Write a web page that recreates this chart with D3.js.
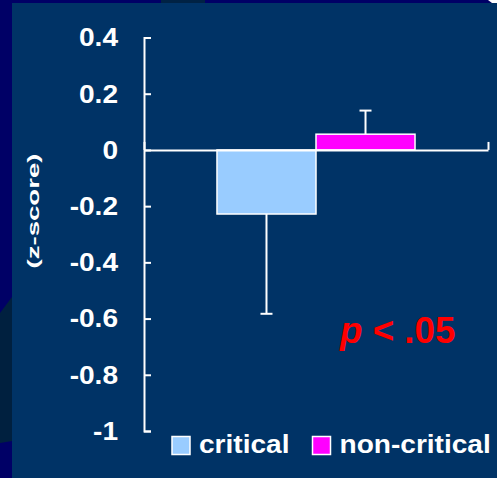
<!DOCTYPE html>
<html>
<head>
<meta charset="utf-8">
<script src="https://cdn.jsdelivr.net/npm/d3@7"></script>
<style>
  html, body { margin: 0; padding: 0; background: #000066; }
  svg { display: block; }
  text { font-family: "Liberation Sans", Arial, sans-serif; font-weight: bold; }
</style>
</head>
<body>
<svg id="chart" width="497" height="478"></svg>
<script>
// Mean z-scores by condition, with error bar extents
const categories = ["critical", "non-critical"];
const means = [-0.228, 0.056];
const errorEnds = [-0.583, 0.14];
const barColors = ["#99CCFF", "#FF00FF"];

// Y axis ticks
const tickValues = [0.4, 0.2, 0, -0.2, -0.4, -0.6, -0.8, -1];
const tickLabels = ["0.4", "0.2", "0", "-0.2", "-0.4", "-0.6", "-0.8", "-1"];

const axisTitle = "(z-score)";
const annotation = { italic: "p", rest: " < .05" };

const svg = d3.select("#chart");
const stretch = 1.08; // slightly wide lettering

// Slide backdrop
svg.append("rect").attr("x", 0).attr("y", 0).attr("width", 497).attr("height", 478).attr("fill", "#000066");
svg.append("path")
  .attr("d", "M12,297 L0,313 L0,443 L12,441 Z")
  .attr("fill", "#00203F");
svg.append("rect").attr("x", 161).attr("y", 0).attr("width", 44).attr("height", 3).attr("fill", "#002244");
svg.append("path").attr("d", "M488,0 L497,0 L497,3 L492,3 Z").attr("fill", "#ffffff");
svg.append("rect").attr("x", 12).attr("y", 3).attr("width", 485).attr("height", 475).attr("fill", "#003366");

const left = 144, right = 488;

const y = d3.scaleLinear().domain([-1, 0.4]).range([431, 37.5]);
const x = d3.scaleBand().domain(categories).range([left, right]).paddingInner(0).paddingOuter(0.737);

// Bars
svg.append("g").selectAll("rect")
  .data(categories)
  .join("rect")
  .attr("x", d => x(d))
  .attr("width", x.bandwidth())
  .attr("y", (d, i) => y(Math.max(0, means[i])))
  .attr("height", (d, i) => Math.abs(y(means[i]) - y(0)))
  .attr("fill", (d, i) => barColors[i])
  .attr("stroke", "#ffffff")
  .attr("stroke-width", 1.5);

// Error bars (one-sided, away from zero)
const capHalf = 6;
const eb = svg.append("g").attr("stroke", "#ffffff").attr("stroke-width", 2);
categories.forEach((c, i) => {
  const cx = x(c) + x.bandwidth() / 2;
  eb.append("line").attr("x1", cx).attr("x2", cx).attr("y1", y(means[i])).attr("y2", y(errorEnds[i]));
  eb.append("line").attr("x1", cx - capHalf).attr("x2", cx + capHalf).attr("y1", y(errorEnds[i])).attr("y2", y(errorEnds[i]));
});

// Y axis: ticks point inward, labels to the left
const yAxis = d3.axisLeft(y)
  .tickValues(tickValues)
  .tickFormat((d, i) => tickLabels[i])
  .tickSizeInner(-7)
  .tickSizeOuter(-7)
  .tickPadding(26);
const gy = svg.append("g").attr("transform", `translate(${left},0)`).call(yAxis);
gy.selectAll("path, line").attr("stroke", "#ffffff").attr("stroke-width", 2);
gy.selectAll("text")
  .attr("fill", "#ffffff").attr("font-size", 26)
  .attr("font-family", "Liberation Sans, Arial, sans-serif").attr("font-weight", "bold")
  .attr("x", -26 / stretch)
  .attr("transform", `scale(${stretch},1)`);

// X axis at zero: category group boundaries marked with upward ticks
const xEdge = d3.scaleLinear().domain([0, 1]).range([left, right]);
const xAxis = d3.axisTop(xEdge).tickValues([0, 1]).tickSizeInner(8).tickSizeOuter(0).tickFormat("");
const gx = svg.append("g").attr("transform", `translate(0,${y(0)})`).call(xAxis);
gx.selectAll("path, line").attr("stroke", "#ffffff").attr("stroke-width", 2);

// Axis title
svg.append("text")
  .attr("transform", "translate(39,211) rotate(-90)")
  .attr("text-anchor", "middle")
  .attr("fill", "#ffffff")
  .attr("font-size", 17)
  .attr("textLength", 115)
  .attr("lengthAdjust", "spacingAndGlyphs")
  .text(axisTitle);

// Significance note
const note = svg.append("text")
  .attr("x", 340).attr("y", 343)
  .attr("fill", "#FF0000")
  .attr("font-size", 36)
  .attr("transform", "translate(340,0) scale(1.02,1) translate(-340,0)");
note.append("tspan").attr("font-style", "italic").text(annotation.italic);
note.append("tspan").text(annotation.rest);

// Legend
const legendX = [172, 312.5];
const lg = svg.append("g");
categories.forEach((c, i) => {
  lg.append("rect")
    .attr("x", legendX[i]).attr("y", 436.5)
    .attr("width", 18).attr("height", 18)
    .attr("fill", barColors[i])
    .attr("stroke", "#ffffff").attr("stroke-width", 1.5);
  lg.append("text")
    .attr("x", (legendX[i] + 27) / stretch).attr("y", 453)
    .attr("transform", `scale(${stretch},1)`)
    .attr("fill", "#ffffff")
    .attr("font-size", 26)
    .text(c);
});
</script>
</body>
</html>
